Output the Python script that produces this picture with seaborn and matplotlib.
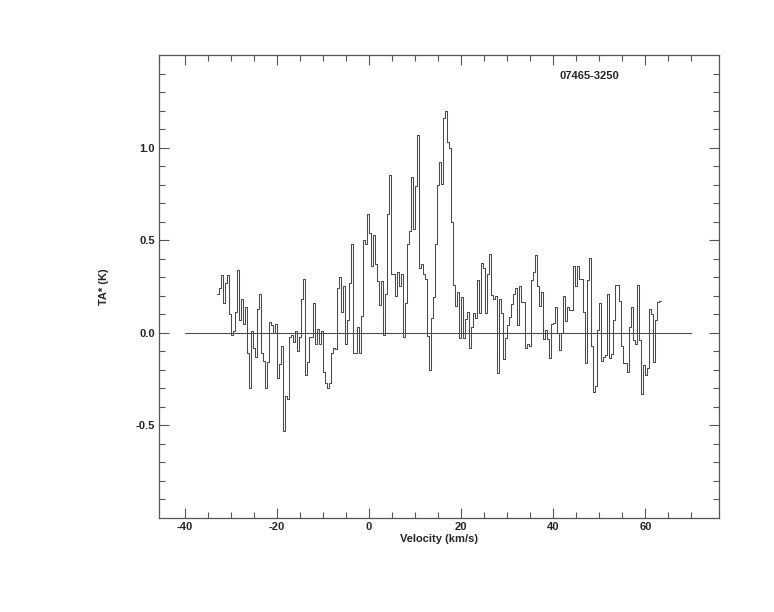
import numpy as np
import matplotlib
matplotlib.use("Agg")
import matplotlib.pyplot as plt
import seaborn as sns

# ==================================================
# DATA  (spectrum, one value per channel)
# ==================================================
SOURCE = "07465-3250"
V_START = -33.0        # left edge of first channel (km/s)
CHAN_WIDTH = 0.434     # channel width (km/s)

ta_star = [
    0.21, 0.24, 0.31, 0.16, 0.27, 0.31, 0.10, -0.01, 0.01, 0.11,
    0.34, 0.07, 0.18, 0.05, 0.14, -0.11, -0.30, 0.01, -0.08, -0.13,
    0.13, 0.21, -0.11, -0.15, -0.30, -0.155, 0.06, 0.04, 0.00, 0.05,
    -0.245, -0.17, -0.07, -0.53, -0.34, -0.36, -0.02, -0.01, -0.05, 0.01,
    -0.10, -0.02, 0.18, 0.29, -0.23, -0.16, -0.02, -0.02, 0.16, -0.06,
    0.02, -0.06, 0.01, -0.21, -0.27, -0.30, -0.27, -0.11, -0.08, -0.09,
    0.24, 0.30, 0.11, 0.25, -0.06, 0.07, 0.27, 0.48, -0.11, -0.11,
    0.03, -0.11, 0.09, 0.50, 0.48, 0.64, 0.54, 0.36, 0.53, 0.37,
    0.28, 0.15, 0.28, -0.01, 0.21, 0.64, 0.85, 0.32, 0.315, 0.20,
    0.33, 0.25, 0.315, -0.02, 0.16, 0.48, 0.55, 0.84, 0.56, 0.79,
    1.07, 0.35, 0.37, 0.32, 0.29, -0.015, -0.20, 0.08, 0.195, 0.48,
    0.80, 0.92, 0.805, 1.16, 1.195, 1.03, 1.00, 0.60, 0.256, 0.144,
    0.22, -0.027, 0.195, -0.03, 0.072, 0.111, -0.081, 0.031, 0.108, 0.081,
    0.285, 0.108, 0.378, 0.35, 0.108, 0.32, 0.427, 0.202, 0.18, 0.198,
    -0.216, 0.18, 0.108, -0.144, -0.03, 0.04, 0.088, 0.155, 0.211, 0.242,
    0.043, 0.254, 0.169, 0.169, -0.083, -0.059, -0.07, 0.286, 0.326, 0.422,
    0.254, 0.146, 0.22, -0.034, 0.016, -0.034, -0.137, 0.047, 0.052, 0.139,
    0.0, -0.092, 0.0, 0.2, 0.065, 0.137, 0.124, 0.124, 0.362, 0.25,
    0.358, 0.29, 0.29, 0.11, -0.164, 0.286, 0.404, -0.07, -0.317, -0.286,
    0.016, 0.16, -0.15, -0.13, -0.12, 0.209, -0.137, -0.114, 0.07, 0.259,
    0.259, 0.17, -0.07, -0.164, -0.164, -0.209, 0.03, 0.142, -0.038, -0.06,
    0.259, -0.04, -0.33, -0.173, -0.227, -0.19, 0.128, 0.10, -0.155, 0.067,
    0.164, 0.17,
]

baseline_v = [-40, 70]
baseline_t = [0.0, 0.0]

x_major = [-40, -20, 0, 20, 40, 60]
x_minor = list(range(-40, 71, 5))
y_major = [-0.5, 0.0, 0.5, 1.0]
y_minor = [round(-0.9 + 0.1 * k, 1) for k in range(24)]

# ==================================================
# STYLE
# ==================================================
sns.set_theme(style="ticks")
plt.rcParams["font.family"] = ["Liberation Sans", "DejaVu Sans"]
plt.rcParams["font.weight"] = "bold"
plt.rcParams["axes.unicode_minus"] = False

edges = V_START + CHAN_WIDTH * np.arange(len(ta_star) + 1)
values = np.append(ta_star, ta_star[-1])

fig = plt.figure(figsize=(7.74, 6.12), dpi=100)
ax = fig.add_axes([159 / 774, 94 / 612, 560 / 774, 463 / 612])

sns.lineplot(
    x=edges,
    y=values,
    drawstyle="steps-post",
    color="#4a4a4a",
    linewidth=0.75,
    sort=False,
    estimator=None,
    ax=ax,
)
ax.plot(baseline_v, baseline_t, color="#4a4a4a", linewidth=0.75)

ax.set_xlim(-45.6, 76.0)
ax.set_ylim(-1.0, 1.5)

ax.set_xticks(x_major)
ax.set_xticks(x_minor, minor=True)
ax.set_yticks(y_major)
ax.set_yticks(y_minor, minor=True)
ax.set_yticklabels(["-0.5", "0.0", "0.5", "1.0"])

ax.tick_params(which="both", direction="in", top=True, right=True,
               color="#555555", width=0.8, labelsize=8, pad=3)
ax.tick_params(which="major", length=7)
ax.tick_params(which="minor", length=4.5)

for side in ax.spines.values():
    side.set_color("#555555")
    side.set_linewidth(0.9)

ax.set_xlabel("Velocity (km/s)", fontsize=8, fontweight="bold", labelpad=1)
ax.set_ylabel("TA* (K)", fontsize=8, fontweight="bold", labelpad=19)

ax.text(0.716, 0.955, SOURCE, transform=ax.transAxes, fontsize=8,
        fontweight="bold", ha="left", va="center")

fig.savefig("out.png", dpi=100)
